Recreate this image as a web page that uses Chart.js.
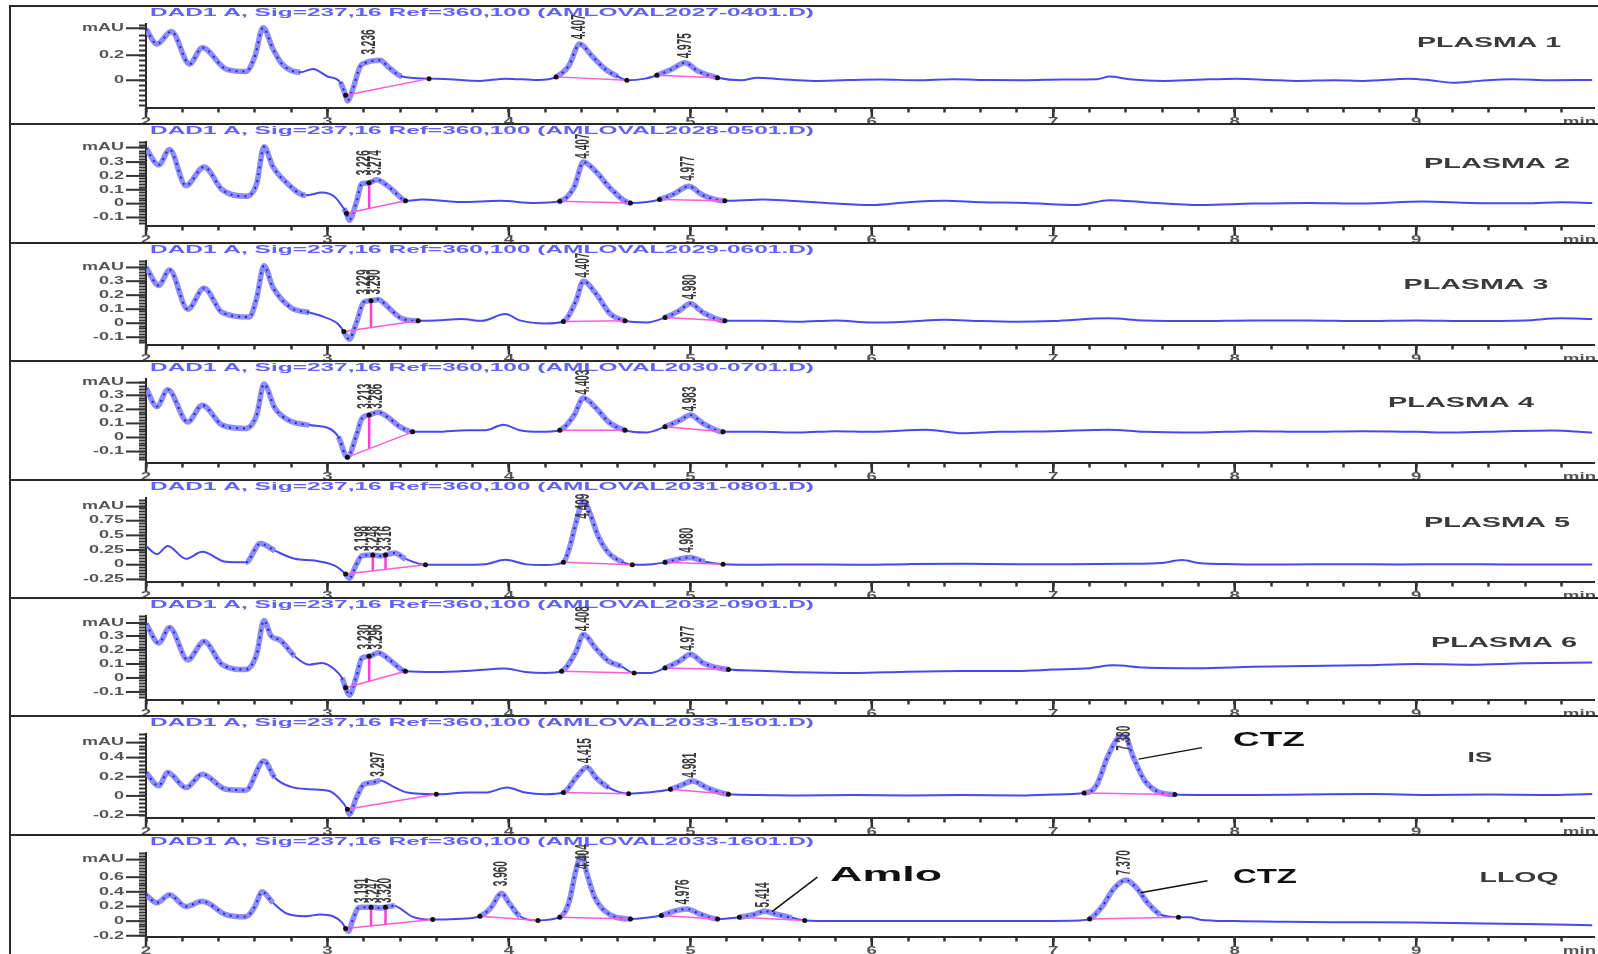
<!DOCTYPE html>
<html>
<head>
<meta charset="utf-8">
<script src="https://cdn.jsdelivr.net/npm/chart.js@4"></script>
<style>
  html, body { margin: 0; background: #fff; }
  #page { position: relative; width: 1598px; height: 954px; overflow: hidden; background: #fff; }
  #page canvas { position: absolute; left: 0; }
  .rule { position: absolute; left: 9px; right: 0; height: 2px; background: #2a2a2a; }
  .edge { position: absolute; left: 9px; top: 6px; bottom: 0; width: 2px; background: #2a2a2a; }
</style>
</head>
<body>
<div id="page"><div class="edge"></div></div>
<script>
// traces: [time (min), signal (mAU)]
const plasma1 = [[2.0,0.41],[2.06,0.29],[2.14,0.39],[2.24,0.13],[2.31,0.26],[2.44,0.09],[2.55,0.07],[2.6,0.19],[2.645,0.42],[2.7,0.25],[2.75,0.13],[2.85,0.064],[2.92,0.09],[3.0,0.03],[3.07,-0.016],[3.1,-0.12],[3.11,-0.165],[3.14,-0.07],[3.18,0.11],[3.21,0.14],[3.29,0.16],[3.34,0.10],[3.41,0.03],[3.56,0.013],[3.67,0.008],[3.84,-0.005],[3.98,0.013],[4.16,0.002],[4.26,0.027],[4.33,0.115],[4.39,0.29],[4.46,0.19],[4.53,0.09],[4.60,0.03],[4.65,0.0],[4.75,0.013],[4.815,0.04],[4.90,0.09],[4.97,0.14],[5.04,0.075],[5.15,0.02],[5.28,0.0],[5.37,0.02],[5.50,0.008],[5.68,-0.005],[5.87,0.002],[6.05,0.006],[6.25,0.0],[6.45,0.008],[6.65,0.002],[6.85,0.0],[7.05,0.006],[7.24,0.008],[7.31,0.03],[7.42,0.008],[7.61,-0.005],[7.79,0.004],[8.01,0.013],[8.2,0.002],[8.34,-0.005],[8.55,0.0],[8.71,-0.005],[8.96,0.013],[9.08,0.0],[9.20,-0.02],[9.35,-0.005],[9.53,0.008],[9.75,0.0],[9.97,0.002]];
const plasma2 = [[2.0,0.40],[2.07,0.28],[2.13,0.39],[2.22,0.13],[2.32,0.265],[2.42,0.10],[2.55,0.053],[2.61,0.145],[2.65,0.41],[2.70,0.265],[2.77,0.157],[2.88,0.06],[2.97,0.08],[3.04,0.048],[3.09,-0.036],[3.105,-0.07],[3.12,-0.12],[3.16,0.012],[3.19,0.145],[3.23,0.15],[3.27,0.173],[3.33,0.13],[3.39,0.06],[3.43,0.02],[3.52,0.03],[3.74,0.012],[3.95,0.02],[4.14,0.005],[4.28,0.017],[4.36,0.12],[4.41,0.30],[4.48,0.23],[4.56,0.11],[4.67,0.005],[4.76,0.012],[4.83,0.03],[4.91,0.07],[4.99,0.125],[5.07,0.06],[5.19,0.02],[5.40,0.03],[5.55,0.02],[5.75,0.005],[6.0,-0.01],[6.2,0.01],[6.40,0.02],[6.6,0.01],[6.85,0.005],[7.13,-0.01],[7.31,0.025],[7.5,0.01],[7.81,-0.01],[8.1,0.0],[8.4,0.005],[8.7,0.0],[9.04,0.015],[9.3,0.005],[9.6,0.002],[9.8,0.01],[9.97,0.005]];
const plasma3 = [[2.0,0.40],[2.07,0.27],[2.13,0.38],[2.23,0.10],[2.32,0.25],[2.42,0.076],[2.57,0.045],[2.61,0.18],[2.65,0.41],[2.70,0.255],[2.80,0.11],[2.90,0.076],[2.98,0.045],[3.06,-0.007],[3.09,-0.06],[3.12,-0.114],[3.16,0.005],[3.20,0.15],[3.24,0.16],[3.28,0.17],[3.33,0.12],[3.40,0.04],[3.50,0.017],[3.60,0.02],[3.74,0.03],[3.85,0.017],[3.98,0.065],[4.06,0.02],[4.20,-0.002],[4.30,0.012],[4.37,0.16],[4.41,0.30],[4.48,0.21],[4.56,0.065],[4.64,0.017],[4.76,0.005],[4.86,0.04],[4.94,0.09],[5.0,0.14],[5.07,0.076],[5.19,0.017],[5.40,0.017],[5.6,0.01],[5.8,0.02],[6.0,0.005],[6.2,0.012],[6.4,0.025],[6.6,0.015],[6.8,0.01],[7.0,0.015],[7.3,0.035],[7.5,0.02],[7.8,0.015],[8.1,0.02],[8.4,0.02],[8.7,0.015],[9.0,0.02],[9.3,0.015],[9.6,0.02],[9.8,0.035],[9.97,0.03]];
const plasma4 = [[2.0,0.35],[2.06,0.22],[2.12,0.34],[2.23,0.11],[2.31,0.23],[2.42,0.088],[2.55,0.064],[2.61,0.16],[2.65,0.38],[2.71,0.21],[2.79,0.12],[2.90,0.088],[3.01,0.064],[3.06,0.005],[3.11,-0.14],[3.16,0.017],[3.19,0.135],[3.23,0.16],[3.28,0.18],[3.33,0.147],[3.40,0.076],[3.47,0.04],[3.60,0.04],[3.77,0.052],[3.87,0.052],[3.97,0.09],[4.06,0.052],[4.17,0.04],[4.28,0.052],[4.36,0.16],[4.41,0.28],[4.48,0.21],[4.55,0.11],[4.64,0.052],[4.76,0.036],[4.86,0.076],[4.94,0.12],[5.0,0.16],[5.07,0.10],[5.18,0.04],[5.38,0.04],[5.6,0.035],[5.8,0.045],[6.0,0.04],[6.3,0.055],[6.5,0.03],[6.7,0.04],[7.0,0.045],[7.3,0.055],[7.5,0.04],[7.8,0.035],[8.1,0.045],[8.4,0.04],[8.7,0.045],[9.0,0.04],[9.2,0.035],[9.5,0.045],[9.75,0.05],[9.97,0.035]];
const plasma5 = [[2.0,0.32],[2.06,0.18],[2.12,0.32],[2.22,0.10],[2.31,0.22],[2.44,0.05],[2.55,0.04],[2.63,0.36],[2.71,0.24],[2.82,0.10],[2.93,0.07],[3.04,-0.017],[3.10,-0.16],[3.12,-0.23],[3.16,0.01],[3.19,0.15],[3.25,0.165],[3.29,0.15],[3.32,0.165],[3.37,0.2],[3.43,0.10],[3.54,0.0],[3.74,0.0],[3.87,0.01],[3.98,0.085],[4.09,0.01],[4.20,-0.005],[4.30,0.04],[4.33,0.25],[4.37,0.72],[4.41,1.09],[4.45,0.85],[4.49,0.5],[4.55,0.2],[4.63,0.04],[4.68,0.0],[4.79,0.01],[4.86,0.04],[4.94,0.10],[5.0,0.125],[5.08,0.05],[5.18,0.01],[5.38,0.0],[5.6,0.005],[5.9,0.0],[6.2,0.01],[6.5,0.015],[6.8,0.01],[7.1,0.01],[7.4,0.015],[7.6,0.03],[7.71,0.08],[7.8,0.03],[8.0,0.01],[8.3,0.005],[8.6,0.01],[8.9,0.005],[9.2,0.01],[9.5,0.005],[9.97,0.005]];
const plasma6 = [[2.0,0.39],[2.07,0.25],[2.13,0.36],[2.23,0.13],[2.32,0.26],[2.42,0.095],[2.55,0.06],[2.61,0.17],[2.65,0.41],[2.69,0.30],[2.74,0.27],[2.82,0.155],[2.90,0.095],[2.97,0.107],[3.04,0.06],[3.08,0.0],[3.10,-0.07],[3.12,-0.124],[3.16,0.012],[3.19,0.143],[3.23,0.155],[3.28,0.18],[3.33,0.143],[3.40,0.067],[3.43,0.048],[3.60,0.043],[3.79,0.052],[3.98,0.067],[4.09,0.043],[4.20,0.036],[4.29,0.048],[4.37,0.19],[4.41,0.31],[4.48,0.21],[4.55,0.12],[4.62,0.083],[4.69,0.036],[4.78,0.036],[4.86,0.071],[4.94,0.12],[5.0,0.17],[5.07,0.107],[5.21,0.06],[5.38,0.052],[5.6,0.04],[5.9,0.035],[6.2,0.045],[6.5,0.05],[6.8,0.05],[7.0,0.06],[7.2,0.07],[7.33,0.09],[7.5,0.075],[7.8,0.07],[8.1,0.08],[8.4,0.085],[8.7,0.09],[9.0,0.1],[9.3,0.095],[9.6,0.105],[9.97,0.11]];
const internalStd = [[2.0,0.245],[2.07,0.105],[2.12,0.245],[2.22,0.087],[2.31,0.226],[2.44,0.07],[2.55,0.06],[2.65,0.365],[2.71,0.19],[2.80,0.094],[2.90,0.07],[3.01,0.052],[3.06,-0.017],[3.11,-0.14],[3.12,-0.19],[3.16,-0.017],[3.20,0.12],[3.25,0.14],[3.29,0.16],[3.36,0.10],[3.44,0.035],[3.60,0.017],[3.77,0.035],[3.87,0.035],[3.99,0.087],[4.09,0.035],[4.20,0.017],[4.30,0.035],[4.37,0.19],[4.43,0.30],[4.48,0.19],[4.55,0.087],[4.66,0.024],[4.76,0.035],[4.89,0.07],[4.96,0.12],[5.01,0.157],[5.09,0.087],[5.21,0.017],[5.38,0.01],[5.6,0.005],[5.9,0.01],[6.2,0.005],[6.5,0.01],[6.8,0.005],[7.0,0.015],[7.17,0.03],[7.235,0.1],[7.30,0.41],[7.35,0.59],[7.39,0.64],[7.44,0.41],[7.50,0.17],[7.57,0.05],[7.67,0.014],[7.8,0.01],[8.1,0.01],[8.4,0.015],[8.76,0.02],[9.07,0.01],[9.4,0.015],[9.7,0.01],[9.97,0.02]];
const lloq = [[2.0,0.36],[2.06,0.25],[2.13,0.36],[2.22,0.20],[2.31,0.27],[2.44,0.09],[2.55,0.06],[2.60,0.20],[2.64,0.40],[2.70,0.25],[2.77,0.11],[2.88,0.067],[2.96,0.09],[3.03,0.067],[3.08,-0.02],[3.10,-0.1],[3.115,-0.14],[3.14,0.02],[3.17,0.18],[3.19,0.19],[3.24,0.19],[3.29,0.18],[3.32,0.19],[3.37,0.21],[3.41,0.157],[3.47,0.058],[3.58,0.022],[3.71,0.03],[3.84,0.067],[3.90,0.18],[3.96,0.38],[4.0,0.25],[4.06,0.067],[4.16,0.01],[4.28,0.054],[4.33,0.25],[4.37,0.7],[4.40,0.91],[4.43,0.65],[4.47,0.34],[4.53,0.135],[4.67,0.03],[4.75,0.045],[4.84,0.076],[4.91,0.135],[4.98,0.166],[5.05,0.10],[5.15,0.03],[5.27,0.054],[5.35,0.09],[5.41,0.135],[5.48,0.09],[5.56,0.045],[5.63,0.01],[5.81,0.0],[6.16,0.0],[6.65,0.0],[7.15,0.01],[7.20,0.03],[7.27,0.20],[7.33,0.43],[7.40,0.56],[7.46,0.45],[7.52,0.25],[7.59,0.09],[7.69,0.054],[7.75,0.054],[7.81,0.02],[8.0,0.0],[8.3,-0.01],[8.6,-0.015],[9.0,-0.02],[9.3,-0.03],[9.6,-0.04],[9.97,-0.055]];

// integration baselines: start and stop points
const plasma1Base = [[[3.10,-0.12],[3.56,0.013]],[[4.26,0.027],[4.65,0.0]],[[4.815,0.04],[5.15,0.02]]];
const plasma2Base = [[[3.105,-0.07],[3.43,0.02]],[[4.28,0.017],[4.67,0.005]],[[4.83,0.03],[5.19,0.02]]];
const plasma3Base = [[[3.09,-0.06],[3.50,0.017]],[[4.30,0.012],[4.64,0.017]],[[4.86,0.04],[5.19,0.017]]];
const plasma4Base = [[[3.11,-0.14],[3.47,0.04]],[[4.28,0.052],[4.64,0.052]],[[4.86,0.076],[5.18,0.04]]];
const plasma5Base = [[[3.10,-0.16],[3.54,0.0]],[[4.30,0.04],[4.68,0.0]],[[4.86,0.04],[5.18,0.01]]];
const plasma6Base = [[[3.10,-0.07],[3.43,0.048]],[[4.29,0.048],[4.69,0.036]],[[4.86,0.071],[5.21,0.06]]];
const internalStdBase = [[[3.11,-0.14],[3.60,0.017]],[[4.30,0.035],[4.66,0.024]],[[4.89,0.07],[5.21,0.017]],[[7.17,0.03],[7.67,0.014]]];
const lloqBase = [[[3.10,-0.1],[3.58,0.022]],[[3.84,0.067],[4.16,0.01]],[[4.28,0.054],[4.67,0.03]],[[4.84,0.076],[5.15,0.03]],[[5.27,0.054],[5.63,0.01]],[[7.20,0.03],[7.69,0.054]]];

// drop lines between split peaks: [time, baseline level, signal level]
const plasma2Drops = [[3.23,-0.035,0.15]];
const plasma3Drops = [[3.24,-0.032,0.16]];
const plasma4Drops = [[3.23,-0.08,0.16]];
const plasma5Drops = [[3.25,-0.105,0.165],[3.32,-0.08,0.165]];
const plasma6Drops = [[3.23,-0.024,0.155]];
const lloqDrops = [[3.24,-0.07,0.19],[3.32,-0.05,0.19]];

// retention time labels: [time, level under the text, text]
const plasma1Rt = [[3.23,0.19,'3.236'],[4.39,0.31,'4.407'],[4.97,0.16,'4.975']];
const plasma2Rt = [[3.20,0.19,'3.226'],[3.265,0.19,'3.274'],[4.41,0.31,'4.407'],[4.99,0.15,'4.977']];
const plasma3Rt = [[3.20,0.19,'3.229'],[3.26,0.19,'3.290'],[4.41,0.31,'4.407'],[5.0,0.155,'4.980']];
const plasma4Rt = [[3.21,0.19,'3.213'],[3.27,0.19,'3.286'],[4.41,0.29,'4.403'],[5.0,0.17,'4.983']];
const plasma5Rt = [[3.19,0.2,'3.198'],[3.25,0.2,'3.248'],[3.32,0.2,'3.316'],[4.41,0.75,'4.409'],[4.98,0.17,'4.980']];
const plasma6Rt = [[3.21,0.19,'3.230'],[3.27,0.19,'3.296'],[4.41,0.32,'4.408'],[4.99,0.18,'4.977']];
const internalStdRt = [[3.28,0.18,'3.297'],[4.42,0.32,'4.415'],[5.0,0.17,'4.981'],[7.39,0.45,'7.380']];
const lloqRt = [[3.19,0.22,'3.191'],[3.255,0.22,'3.247'],[3.32,0.22,'3.320'],[3.96,0.45,'3.960'],[4.41,0.68,'4.404'],[4.96,0.2,'4.976'],[5.40,0.16,'5.414'],[7.39,0.6,'7.370']];

const sampleNames = ['PLASMA 1','PLASMA 2','PLASMA 3','PLASMA 4','PLASMA 5','PLASMA 6','IS','LLOQ'];
const fileNames = ['AMLOVAL2027-0401.D','AMLOVAL2028-0501.D','AMLOVAL2029-0601.D','AMLOVAL2030-0701.D','AMLOVAL2031-0801.D','AMLOVAL2032-0901.D','AMLOVAL2033-1501.D','AMLOVAL2033-1601.D'];
const TITLE_PREFIX = 'DAD1 A, Sig=237,16 Ref=360,100 ';

const xTickValues = [2,3,4,5,6,7,8,9,9.9];
const xTickLabels = ['2','3','4','5','6','7','8','9','min'];
const yLimits = [[-0.218,0.45],[-0.158,0.445],[-0.152,0.444],[-0.178,0.416],[-0.286,1.137],[-0.154,0.443],[-0.225,0.646],[-0.21,0.93]];
const yTickValues = [[0,0.2],[-0.1,0,0.1,0.2,0.3],[-0.1,0,0.1,0.2,0.3],[-0.1,0,0.1,0.2,0.3],[-0.25,0,0.25,0.5,0.75],[-0.1,0,0.1,0.2,0.3],[-0.2,0,0.2,0.4],[-0.2,0,0.2,0.4,0.6]];
const yTickLabels = [['0','0.2'],['-0.1','0','0.1','0.2','0.3'],['-0.1','0','0.1','0.2','0.3'],['-0.1','0','0.1','0.2','0.3'],['-0.25','0','0.25','0.5','0.75'],['-0.1','0','0.1','0.2','0.3'],['-0.2','0','0.2','0.4'],['-0.2','0','0.2','0.4','0.6']];
const mauLevels = [0.416,0.405,0.398,0.39,0.99,0.393,0.556,0.84];
const yMinorSteps = [0.04,0.02,0.02,0.02,0.05,0.02,0.04,0.04];

// where the trace is drawn thick (integrated parts)
const thickParts = [
  [[2.0,2.8],[3.08,3.42],[4.26,4.6],[4.82,5.12]],
  [[2.0,2.9],[3.08,3.42],[4.28,4.62],[4.83,5.15]],
  [[2.0,2.85],[3.08,3.45],[4.3,4.62],[4.86,5.15]],
  [[2.0,2.85],[3.08,3.45],[4.28,4.62],[4.86,5.15]],
  [[2.55,2.7],[3.1,3.45],[4.3,4.62],[4.86,5.1]],
  [[2.0,2.85],[3.08,3.42],[4.29,4.65],[4.86,5.15]],
  [[2.0,2.75],[3.1,3.3],[4.3,4.55],[4.89,5.15],[7.17,7.62]],
  [[2.0,2.7],[3.1,3.35],[3.84,4.1],[4.28,4.6],[4.84,5.1],[5.27,5.55],[7.2,7.62]]
];
// sample tag: centre x, centre y within panel, text width
const tagLayout = [[1489,37,144],[1497,40,146],[1476,42,145],[1461,42,146],[1497,43,146],[1504,45,146],[1480,42,25],[1519,43,79]];
// compound call-outs in data units
const callouts = [[],[],[],[],[],[],
  [{ text: 'CTZ', at: [7.99,0.58], width: 72, from: [7.47,0.384], to: [7.82,0.504] }],
  [{ text: 'CTZ', at: [7.99,0.60], width: 64, from: [7.48,0.387], to: [7.85,0.55] },
   { text: 'Amlo', at: [5.77,0.62], width: 112, from: [5.45,0.13], to: [5.70,0.60] }]
];

const traces = [plasma1, plasma2, plasma3, plasma4, plasma5, plasma6, internalStd, lloq];
const bases = [plasma1Base, plasma2Base, plasma3Base, plasma4Base, plasma5Base, plasma6Base, internalStdBase, lloqBase];
const drops = [[], plasma2Drops, plasma3Drops, plasma4Drops, plasma5Drops, plasma6Drops, [], lloqDrops];
const rtLabels = [plasma1Rt, plasma2Rt, plasma3Rt, plasma4Rt, plasma5Rt, plasma6Rt, internalStdRt, lloqRt];

const PANEL_TOP = 6, PANEL_STEP = 118.4, CANVAS_H = 118;
const AREA_TOP = 18, AREA_BOTTOM = 101.5, AXIS_LEFT = 146;
const FONT = '"Liberation Sans", Arial, sans-serif';

const xMinorTicks = [];
for (let k = 0; k < 40; k++) xMinorTicks.push(Math.round((2 + k * 0.2) * 10) / 10);

function yTicksFor(i) {
  const step = yMinorSteps[i], [lo, hi] = yLimits[i], mau = mauLevels[i];
  const out = [];
  for (let v = Math.ceil(lo / step) * step; v <= hi; v += step) {
    const r = Math.round(v * 1000) / 1000;
    if (Math.abs(r - mau) > step * 0.6) out.push(r);
  }
  out.push(mau);
  return out;
}

function inParts(parts, x) {
  return parts.some(r => x >= r[0] && x <= r[1]);
}

// text stretched sideways like the scanned original
function wide(g, text, x, y, font, color, sx, align) {
  g.save();
  g.font = font; g.fillStyle = color; g.textBaseline = 'middle'; g.textAlign = align;
  g.translate(x, y); g.scale(sx, 1);
  g.fillText(text, 0, 0);
  g.restore();
}
function fitWide(g, text, x, y, font, color, width, align) {
  g.save(); g.font = font;
  const w = g.measureText(text).width;
  g.restore();
  wide(g, text, x, y, font, color, width / w, align);
}
function stroke(g, x1, y1, x2, y2) {
  g.beginPath(); g.moveTo(x1, y1); g.lineTo(x2, y2); g.stroke();
}

function decorate(chart, i) {
  const g = chart.ctx, xs = chart.scales.x, ys = chart.scales.y, a = chart.chartArea;
  g.save();
  g.strokeStyle = '#333';
  g.lineWidth = 2.5;
  xTickValues.forEach(v => {
    if (v > 9.5) return;
    const x = xs.getPixelForValue(v);
    stroke(g, x, a.bottom, x, a.bottom + 10);
  });
  g.lineWidth = 2;
  yTickValues[i].concat([mauLevels[i]]).forEach(v => {
    const y = ys.getPixelForValue(v);
    stroke(g, a.left - 20, y, a.left, y);
  });
  xTickValues.forEach((v, k) => {
    wide(g, xTickLabels[k], xs.getPixelForValue(v), a.bottom + 14, 'bold 11px ' + FONT, '#555', 1.7, 'center');
  });
  yTickValues[i].forEach((v, k) => {
    wide(g, yTickLabels[i][k], a.left - 22, ys.getPixelForValue(v), 'bold 10px ' + FONT, '#555', 1.8, 'right');
  });
  wide(g, 'mAU', a.left - 22, ys.getPixelForValue(mauLevels[i]), 'bold 10px ' + FONT, '#555', 1.8, 'right');

  fitWide(g, TITLE_PREFIX + '(' + fileNames[i] + ')', 150, 7, 'bold 11px ' + FONT, '#6262f4', 664, 'left');
  const t = tagLayout[i];
  fitWide(g, sampleNames[i], t[0], t[1], 'bold 15px ' + FONT, '#3a3a3a', t[2], 'center');

  // retention times, written upwards above the peaks
  rtLabels[i].forEach(r => {
    g.save();
    g.translate(xs.getPixelForValue(r[0]), ys.getPixelForValue(r[1]) - 2);
    g.scale(2.1, 1);
    g.rotate(-Math.PI / 2);
    g.font = 'bold 10px ' + FONT; g.fillStyle = '#3a3a3a';
    g.textAlign = 'left'; g.textBaseline = 'middle';
    g.fillText(r[2], 0, 0);
    g.restore();
  });

  callouts[i].forEach(c => {
    g.strokeStyle = '#111'; g.lineWidth = 1.5;
    stroke(g, xs.getPixelForValue(c.from[0]), ys.getPixelForValue(c.from[1]),
              xs.getPixelForValue(c.to[0]), ys.getPixelForValue(c.to[1]));
    fitWide(g, c.text, xs.getPixelForValue(c.at[0]), ys.getPixelForValue(c.at[1]),
            'bold 20px ' + FONT, '#111', c.width, 'left');
  });
  g.restore();
}

const page = document.getElementById('page');

traces.forEach((trace, i) => {
  const top = Math.round(PANEL_TOP + i * PANEL_STEP);
  const cv = document.createElement('canvas');
  cv.width = 1598;
  cv.height = i === traces.length - 1 ? 954 - top : CANVAS_H;
  cv.style.top = top + 'px';
  page.appendChild(cv);
  const rule = document.createElement('div');
  rule.className = 'rule';
  rule.style.top = (top - 1) + 'px';
  page.appendChild(rule);

  const plain = c => !inParts(thickParts[i], (c.p0.parsed.x + c.p1.parsed.x) / 2);
  const datasets = [
    { data: trace, order: 3, borderWidth: 2, borderColor: '#4848f0', pointRadius: 0,
      cubicInterpolationMode: 'monotone',
      segment: {
        borderWidth: c => plain(c) ? 2 : 5.5,
        borderColor: c => plain(c) ? '#4848f0' : 'rgba(128,128,255,0.9)'
      } },
    { data: trace, order: 2, borderWidth: 2, borderDash: [2, 5], borderColor: 'rgba(0,0,0,0)',
      pointRadius: 0, cubicInterpolationMode: 'monotone',
      segment: { borderColor: c => plain(c) ? 'rgba(0,0,0,0)' : '#2626c0' } }
  ];
  bases[i].forEach(seg => datasets.push({
    data: seg, order: 1, borderColor: '#ff5ad8', borderWidth: 1.5,
    pointRadius: 2.5, pointBackgroundColor: '#111', pointBorderWidth: 0
  }));
  drops[i].forEach(d => datasets.push({
    data: [[d[0], d[1]], [d[0], d[2]]], order: 1, borderColor: '#ff3fd0', borderWidth: 2.5,
    pointRadius: [0, 2.5], pointBackgroundColor: '#111', pointBorderWidth: 0
  }));

  new Chart(cv, {
    type: 'line',
    data: { datasets },
    options: {
      responsive: false,
      animation: false,
      events: [],
      layout: { padding: { top: AREA_TOP, left: 0, right: 0, bottom: 0 } },
      plugins: { legend: { display: false }, tooltip: { enabled: false } },
      scales: {
        x: {
          type: 'linear', min: 2, max: 9.98,
          afterBuildTicks: s => { s.ticks = xMinorTicks.map(v => ({ value: v })); },
          afterFit: s => { s.height = cv.height - AREA_BOTTOM; },
          ticks: { display: false },
          grid: { drawOnChartArea: false, drawTicks: true, tickLength: 5, tickWidth: 2.5, tickColor: '#333' },
          border: { display: true, color: '#2a2a2a', width: 2 }
        },
        y: {
          type: 'linear', min: yLimits[i][0], max: yLimits[i][1],
          afterBuildTicks: s => { s.ticks = yTicksFor(i).map(v => ({ value: v })); },
          afterFit: s => { s.width = AXIS_LEFT; },
          ticks: { display: false },
          grid: { drawOnChartArea: false, drawTicks: true, tickLength: 7, tickWidth: 2, tickColor: '#333' },
          border: { display: true, color: '#2a2a2a', width: 2 }
        }
      }
    },
    plugins: [{ id: 'decor', afterDraw: chart => decorate(chart, i) }]
  });
});
</script>
</body>
</html>
